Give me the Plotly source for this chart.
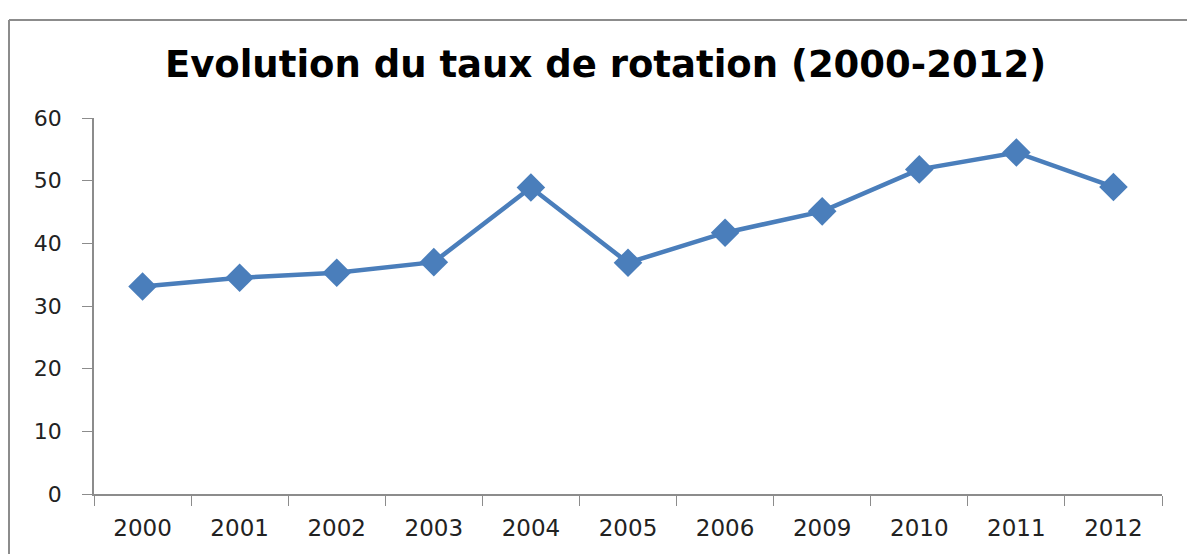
import plotly.graph_objects as go

# --- données ---
annees = ["2000", "2001", "2002", "2003", "2004", "2005", "2006", "2009", "2010", "2011", "2012"]
taux = [33.1, 34.5, 35.3, 37.0, 48.9, 36.9, 41.7, 45.1, 51.8, 54.5, 49.0]
y_ticks = [0, 10, 20, 30, 40, 50, 60]

BLEU = "#4a7ebb"
GRIS = "#8c8c8c"
POLICE = "DejaVu Sans"

fig = go.Figure()
fig.add_trace(go.Scatter(
    x=annees, y=taux, mode="lines+markers",
    line=dict(color=BLEU, width=4.5),
    marker=dict(symbol="diamond", size=22, color=BLEU),
    showlegend=False, cliponaxis=False,
))

# cadre du graphique (coupé à droite et en bas comme dans la capture)
x_cadre = -85 / 1068
y_cadre = 1 + 98 / 376
fig.add_shape(type="line", xref="paper", yref="paper", x0=x_cadre, x1=x_cadre, y0=y_cadre, y1=-0.6,
              line=dict(color=GRIS, width=2))
fig.add_shape(type="line", xref="paper", yref="paper", x0=x_cadre, x1=1.2, y0=y_cadre, y1=y_cadre,
              line=dict(color=GRIS, width=2))

fig.update_xaxes(
    type="category", range=[-0.5, len(annees) - 0.5],
    showline=True, linecolor=GRIS, linewidth=1.5,
    ticks="outside", tickson="boundaries", ticklen=10, tickcolor=GRIS,
    showgrid=False, ticklabelstandoff=13,
    tickfont=dict(family=POLICE, size=23, color="#222"),
)
fig.update_yaxes(
    range=[0, 60], tickvals=y_ticks, showline=True, linecolor=GRIS, linewidth=1.5,
    ticks="outside", ticklen=10, tickcolor=GRIS, showgrid=False, zeroline=False,
    ticklabelstandoff=16, tickfont=dict(family=POLICE, size=22, color="#222"),
)
fig.update_layout(
    width=1195, height=554,
    margin=dict(l=86, r=41, t=110, b=68),
    paper_bgcolor="white", plot_bgcolor="white",
    title=dict(text="<b>Evolution du taux de rotation (2000-2012)</b>",
               x=0.5, xanchor="center", y=1 - 56 / 554, yanchor="middle",
               font=dict(family=POLICE, size=37, color="black")),
)

fig.write_html("out.html")
